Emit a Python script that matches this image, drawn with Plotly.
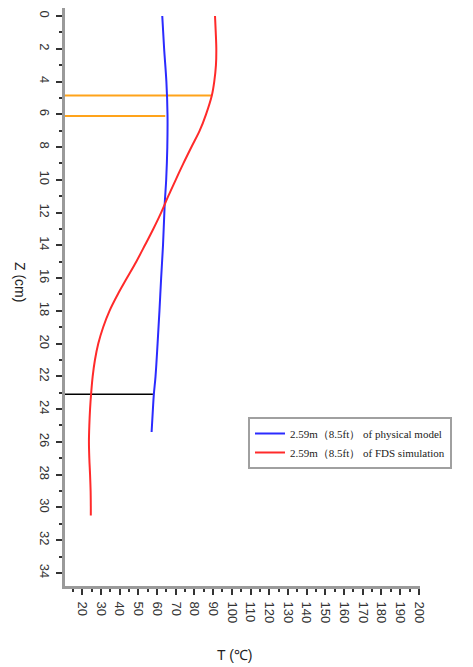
import plotly.graph_objects as go

# Physical model (blue)
z_phys = [0, 2, 4, 6, 8, 10, 11.5, 14, 16, 18, 20, 22, 23.1, 24, 25.4]
t_phys = [62.8, 63.8, 65.0, 65.6, 65.5, 64.9, 64.1, 63.2, 62.2, 61.3, 60.3, 59.2, 58.3, 57.8, 57.1]

# FDS simulation (red)
z_fds = [0, 1, 2, 3, 4, 4.85, 6, 7, 8, 9, 10, 11, 12, 13, 14, 15, 16, 17, 18, 19, 20,
         21, 22, 23, 24, 25, 26, 27, 28, 29, 30, 30.5]
t_fds = [91.0, 91.4, 91.7, 91.5, 90.6, 89.3, 86.2, 82.8, 78.4, 74.1, 70.0, 66.0, 62.2,
         58.0, 53.5, 48.9, 43.9, 39.0, 34.6, 31.2, 28.6, 26.8, 25.6, 24.8, 24.2, 23.8,
         23.6, 23.8, 24.2, 24.5, 24.6, 24.6]

# reference lines
ref_z = [4.85, 6.1, 23.1]
ref_t_end = [89.3, 64.4, 57.8]
ref_colors = ["#FFA31A", "#FFA31A", "#000000"]
ref_widths = [2, 2, 1.5]

x_ticks = list(range(20, 201, 10))
y_ticks = list(range(0, 35, 2))

X0, X1 = 10.8, 200.6
Y0, Y1 = 34.8, -0.49

W, H = 465, 659
L, R, T, B = 57, 53, 0, 81
PW, PH = W - L - R, H - T - B

fig = go.Figure()

for z, te, c, w in zip(ref_z, ref_t_end, ref_colors, ref_widths):
    fig.add_trace(go.Scatter(x=[X0, te], y=[z, z], mode="lines",
                             line=dict(color=c, width=w), showlegend=False,
                             hoverinfo="skip"))

fig.add_trace(go.Scatter(x=t_phys, y=z_phys, mode="lines",
                         line=dict(color="#2b2bff", width=2, shape="spline"),
                         name="2.59m（8.5ft） of physical model"))
fig.add_trace(go.Scatter(x=t_fds, y=z_fds, mode="lines",
                         line=dict(color="#ff2a2a", width=2, shape="spline"),
                         name="2.59m（8.5ft） of FDS simulation"))

axis_common = dict(
    showline=True, linecolor="#9a9a9a", linewidth=3,
    ticks="outside", ticklen=6, tickwidth=1.5, tickcolor="#333333",
    showgrid=False, zeroline=False, automargin=False,
    tickfont=dict(family="Liberation Sans", size=13, color="#333333"),
    tickangle=90,
)

fig.update_xaxes(range=[X0, X1], tickvals=x_ticks, ticktext=[str(v) for v in x_ticks],
                 ticklabelstandoff=4,
                 minor=dict(dtick=5, tick0=0, ticks="outside", ticklen=3,
                            tickwidth=1.5, tickcolor="#333333"),
                 **axis_common)
fig.update_yaxes(range=[Y0, Y1], tickvals=y_ticks, ticktext=[str(v) for v in y_ticks],
                 minor=dict(dtick=1, tick0=0, ticks="outside", ticklen=3,
                            tickwidth=1.5, tickcolor="#333333"),
                 **axis_common)

fig.add_annotation(text="T (℃)", xref="paper", yref="paper", x=(227 - L) / PW, y=0,
                   yshift=-69, showarrow=False, xanchor="center", yanchor="middle",
                   font=dict(family="Liberation Sans", size=14, color="#222222"))
fig.add_annotation(text="Z (cm)", xref="paper", yref="paper", x=0, y=1 - 274 / PH,
                   xshift=-45, showarrow=False, textangle=90,
                   xanchor="center", yanchor="middle",
                   font=dict(family="Liberation Sans", size=14, color="#222222"))

fig.update_layout(
    width=W, height=H,
    margin=dict(l=L, r=R, t=T, b=B, autoexpand=False),
    plot_bgcolor="white", paper_bgcolor="white",
    legend=dict(x=(240 - L) / PW, y=1 - 409 / PH, xanchor="left", yanchor="top",
                bgcolor="white", bordercolor="#a0a0a0", borderwidth=2,
                font=dict(family="Liberation Serif", size=11, color="#222222")),
)

fig.write_html("out.html")
